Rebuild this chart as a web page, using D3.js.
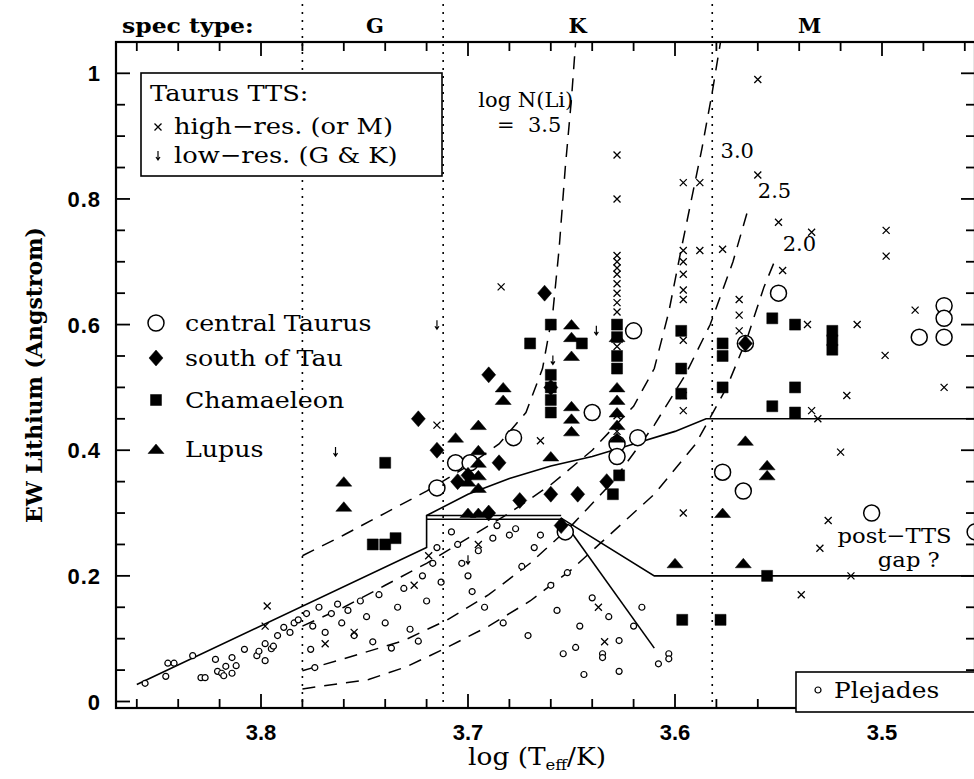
<!DOCTYPE html>
<html>
<head>
<meta charset="utf-8">
<script src="https://cdn.jsdelivr.net/npm/d3@7"></script>
<style>
body { margin: 0; background: #fff; }
text { font-family: "DejaVu Serif", serif; fill: #000; }
</style>
</head>
<body>
<div id="chart"></div>
<script>
// ---- data : [log Teff, EW Li (Angstrom)] ----
var pleiades = [
  [3.856,0.029],[3.846,0.040],[3.845,0.061],[3.842,0.061],[3.833,0.073],[3.822,0.067],[3.829,0.038],[3.827,0.038],
  [3.821,0.048],[3.819,0.045],[3.818,0.041],[3.817,0.056],[3.814,0.070],[3.814,0.045],[3.812,0.057],[3.808,0.083],
  [3.802,0.073],[3.801,0.080],[3.798,0.065],[3.798,0.092],[3.795,0.084],[3.794,0.088],[3.792,0.105],[3.789,0.118],
  [3.786,0.11],[3.784,0.125],[3.782,0.13],
  [3.776,0.083],[3.774,0.054],[3.778,0.14],[3.775,0.12],[3.772,0.15],[3.769,0.11],[3.766,0.14],[3.763,0.155],
  [3.761,0.125],[3.758,0.145],[3.755,0.105],[3.752,0.16],[3.749,0.135],[3.746,0.095],[3.743,0.17],[3.74,0.125],
  [3.737,0.085],[3.734,0.15],[3.731,0.18],[3.728,0.115],[3.724,0.096],[3.722,0.2],[3.72,0.16],[3.717,0.22],
  [3.715,0.245],[3.713,0.19],
  [3.708,0.27],[3.705,0.25],[3.703,0.22],[3.70,0.2],[3.698,0.175],[3.695,0.24],[3.692,0.15],[3.688,0.26],
  [3.686,0.28],[3.683,0.125],[3.68,0.265],[3.677,0.275],[3.674,0.215],[3.671,0.105],[3.668,0.245],[3.665,0.265],
  [3.66,0.185],[3.657,0.145],[3.654,0.076],[3.652,0.205],[3.648,0.086],[3.646,0.12],[3.644,0.043],[3.64,0.165],
  [3.635,0.076],[3.635,0.07],[3.632,0.135],[3.627,0.097],[3.627,0.048],[3.62,0.12],[3.616,0.15],[3.608,0.06],
  [3.603,0.076],[3.603,0.068]
];
var taurusHigh = [
  [3.797,0.152],[3.798,0.12],[3.769,0.092],[3.755,0.11],[3.726,0.185],[3.719,0.232],[3.715,0.44],[3.695,0.25],
  [3.684,0.66],[3.665,0.415],[3.637,0.15],[3.634,0.095],
  [3.628,0.87],[3.628,0.80],[3.628,0.71],[3.628,0.70],[3.628,0.69],[3.628,0.68],[3.628,0.665],[3.628,0.65],
  [3.628,0.635],[3.628,0.62],[3.628,0.565],[3.628,0.53],[3.628,0.455],[3.628,0.43],[3.628,0.41],
  [3.596,0.826],[3.596,0.718],[3.596,0.70],[3.596,0.68],[3.596,0.655],[3.596,0.64],[3.596,0.575],[3.596,0.487],
  [3.596,0.463],[3.596,0.3],[3.588,0.826],[3.588,0.718],[3.577,0.72],[3.56,0.99],[3.56,0.838],[3.569,0.64],
  [3.569,0.615],[3.569,0.59],[3.55,0.763],[3.548,0.686],[3.536,0.6],[3.534,0.747],[3.512,0.6],[3.4985,0.551],
  [3.498,0.75],[3.498,0.709],[3.517,0.487],[3.534,0.463],[3.531,0.45],[3.526,0.288],[3.53,0.244],[3.515,0.2],
  [3.539,0.17],[3.52,0.397],[3.484,0.623],[3.47,0.5]
];
var taurusLow = [
  [3.715,0.599],[3.764,0.397],[3.659,0.543],[3.638,0.59],[3.628,0.39],[3.70,0.225]
];
var centralTau = [
  [3.715,0.34],[3.706,0.38],[3.699,0.38],[3.678,0.42],[3.653,0.27],[3.64,0.46],[3.628,0.41],[3.628,0.39],
  [3.62,0.59],[3.618,0.42],[3.577,0.365],[3.567,0.335],[3.566,0.57],[3.55,0.65],[3.505,0.30],[3.482,0.58],
  [3.47,0.63],[3.47,0.61],[3.47,0.58],[3.455,0.27]
];
var southTau = [
  [3.724,0.45],[3.715,0.40],[3.705,0.35],[3.70,0.36],[3.69,0.52],[3.685,0.38],[3.675,0.32],[3.663,0.65],
  [3.66,0.33],[3.655,0.28],[3.647,0.33],[3.633,0.35],[3.566,0.57],[3.66,0.5],[3.69,0.3]
];
var chamaeleon = [
  [3.746,0.25],[3.74,0.25],[3.735,0.26],[3.74,0.38],[3.67,0.57],[3.66,0.60],[3.66,0.52],[3.66,0.50],[3.66,0.48],
  [3.66,0.46],[3.645,0.57],[3.628,0.60],[3.628,0.58],[3.628,0.55],[3.628,0.53],[3.63,0.33],[3.627,0.36],
  [3.597,0.59],[3.597,0.53],[3.597,0.49],[3.5965,0.13],[3.578,0.13],[3.577,0.57],[3.577,0.55],[3.577,0.50],
  [3.553,0.61],[3.553,0.47],[3.542,0.60],[3.542,0.50],[3.542,0.46],[3.524,0.59],[3.524,0.575],[3.524,0.56],[3.5555,0.2]
];
var lupus = [
  [3.76,0.35],[3.76,0.31],[3.706,0.42],[3.70,0.35],[3.695,0.44],[3.695,0.40],[3.695,0.38],[3.695,0.36],
  [3.695,0.34],[3.683,0.50],[3.683,0.48],[3.65,0.60],[3.65,0.58],[3.65,0.55],[3.65,0.47],[3.65,0.45],[3.65,0.43],
  [3.628,0.58],[3.628,0.50],[3.628,0.48],[3.628,0.46],[3.628,0.44],[3.628,0.42],[3.66,0.39],[3.70,0.30],
  [3.695,0.30],[3.577,0.30],[3.566,0.415],[3.5555,0.376],[3.5555,0.36],[3.60,0.22],[3.567,0.22]
];

// curves of growth, log N(Li) = 3.5, 3.0, 2.5, 2.0
var curve35 = [[3.78,0.232],[3.76,0.265],[3.74,0.3],[3.72,0.335],[3.70,0.375],[3.685,0.41],[3.672,0.46],
  [3.664,0.53],[3.659,0.62],[3.656,0.72],[3.653,0.85],[3.65,0.96],[3.648,1.05]];
var curve30 = [[3.78,0.12],[3.76,0.15],[3.74,0.185],[3.72,0.22],[3.70,0.26],[3.68,0.30],[3.66,0.345],
  [3.64,0.40],[3.62,0.47],[3.61,0.53],[3.603,0.62],[3.597,0.72],[3.592,0.80],[3.587,0.88],[3.582,0.97],[3.578,1.05]];
var curve25 = [[3.78,0.049],[3.76,0.068],[3.745,0.083],[3.731,0.097],[3.71,0.13],[3.69,0.17],[3.67,0.22],
  [3.65,0.28],[3.63,0.35],[3.61,0.44],[3.595,0.52],[3.583,0.6],[3.572,0.7],[3.565,0.78]];
var curve20 = [[3.78,0.02],[3.765,0.027],[3.748,0.035],[3.73,0.055],[3.712,0.083],[3.69,0.12],[3.67,0.16],
  [3.65,0.21],[3.63,0.27],[3.61,0.33],[3.59,0.41],[3.575,0.5],[3.565,0.58],[3.557,0.66],[3.552,0.70]];

// solid boundary lines
var envelope = [[3.86,0.027],[3.72,0.245],[3.72,0.296],[3.70,0.33],[3.68,0.355],[3.66,0.375],[3.64,0.39],
  [3.62,0.41],[3.60,0.43],[3.585,0.45],[3.40,0.45]];
var ledgeTop = [[3.72,0.296],[3.655,0.296]];
var ledgeLow = [[3.72,0.29],[3.655,0.29]];
var gapLine = [[3.655,0.292],[3.61,0.2],[3.40,0.2]];
var dropLine = [[3.655,0.292],[3.61,0.085]];

var specBounds = [3.78, 3.712, 3.582];
var specLabels = [["G", 3.745], ["K", 3.647], ["M", 3.535]];
var curveLabels = [["3.0", 3.578, 0.877], ["2.5", 3.560, 0.813], ["2.0", 3.548, 0.729]];
var yTicks = [0, 0.2, 0.4, 0.6, 0.8, 1];
var xTicks = [3.8, 3.7, 3.6, 3.5];

// ---- layout ----
var svgWidth = 974, svgHeight = 779;
var frame = { left: 116, right: 975, top: 42, bottom: 708 };

var svg = d3.select("#chart").append("svg")
  .attr("width", svgWidth).attr("height", svgHeight);

var x = d3.scaleLinear().domain([3.8, 3.7]).range([261, 468]);
var y = d3.scaleLinear().domain([0, 1]).range([701.5, 73.3]);

svg.append("clipPath").attr("id", "plotclip")
  .append("rect").attr("x", frame.left).attr("y", frame.top)
  .attr("width", frame.right - frame.left).attr("height", frame.bottom - frame.top);

var plot = svg.append("g").attr("clip-path", "url(#plotclip)");

// wide serif text, like the original plotting font
function wideText(parent, px, py, str, size, sx, weight) {
  return parent.append("text")
    .attr("transform", "translate(" + px + "," + py + ") scale(" + sx + ",1)")
    .style("font-size", size + "px").style("font-weight", weight || "normal")
    .text(str);
}

// spectral type separators (reach above the frame)
specBounds.forEach(function (b) {
  svg.append("line")
    .attr("x1", x(b)).attr("x2", x(b)).attr("y1", 4).attr("y2", frame.bottom)
    .attr("stroke", "#000").attr("stroke-width", 1.6).attr("stroke-dasharray", "2,6");
});

var line = d3.line().x(d => x(d[0])).y(d => y(d[1]));

[curve35, curve30, curve25, curve20].forEach(function (c) {
  plot.append("path").attr("d", line(c)).attr("fill", "none")
    .attr("stroke", "#000").attr("stroke-width", 1.5).attr("stroke-dasharray", "13,9");
});
[envelope, ledgeTop, ledgeLow, gapLine, dropLine].forEach(function (c) {
  plot.append("path").attr("d", line(c)).attr("fill", "none")
    .attr("stroke", "#000").attr("stroke-width", 1.6);
});

// symbol paths
function circlePath(r) { return "M" + r + ",0A" + r + "," + r + " 0 1,1 " + (-r) + ",0A" + r + "," + r + " 0 1,1 " + r + ",0Z"; }
var sym = {
  big: circlePath(8),
  small: circlePath(3),
  diamond: "M0,-8L7,0L0,8L-7,0Z",
  square: "M-5.5,-5.5H5.5V5.5H-5.5Z",
  triangle: "M-8,4.5L0,-5L8,4.5Z",
  cross: "M-3.5,-3.5L3.5,3.5M-3.5,3.5L3.5,-3.5",
  arrow: "M0,-5V4M-2,1L0,4L2,1"
};

function drawSet(data, path, filled, sw) {
  plot.selectAll(null).data(data).enter().append("path")
    .attr("transform", d => "translate(" + x(d[0]) + "," + y(d[1]) + ")")
    .attr("d", path)
    .attr("fill", filled ? "#000" : "#fff")
    .attr("stroke", "#000")
    .attr("stroke-width", sw);
}
drawSet(pleiades, sym.small, false, 1.2);
drawSet(taurusHigh, sym.cross, false, 1.3);
taurusLow.forEach(function (d) {
  plot.append("path").attr("transform", "translate(" + x(d[0]) + "," + y(d[1]) + ")")
    .attr("d", sym.arrow).attr("fill", "none").attr("stroke", "#000").attr("stroke-width", 1.2);
});
drawSet(centralTau, sym.big, false, 1.5);
drawSet(southTau, sym.diamond, true, 0.5);
drawSet(chamaeleon, sym.square, true, 0.5);
drawSet(lupus, sym.triangle, true, 0.5);

// ---- frame and ticks ----
svg.append("rect").attr("x", frame.left).attr("y", frame.top)
  .attr("width", frame.right - frame.left).attr("height", frame.bottom - frame.top)
  .attr("fill", "none").attr("stroke", "#000").attr("stroke-width", 2.2);

var yMinor = d3.range(0, 1.051, 0.05);
yMinor.forEach(function (v) {
  var major = Math.abs(v * 5 - Math.round(v * 5)) < 1e-6;
  var len = major ? 14 : 9;
  svg.append("line").attr("x1", frame.left).attr("x2", frame.left + len).attr("y1", y(v)).attr("y2", y(v))
    .attr("stroke", "#000").attr("stroke-width", 1.8);
  svg.append("line").attr("x1", frame.right).attr("x2", frame.right - len).attr("y1", y(v)).attr("y2", y(v))
    .attr("stroke", "#000").attr("stroke-width", 1.8);
});
var xMinor = d3.range(3.46, 3.871, 0.02);
xMinor.forEach(function (v) {
  var major = Math.abs(v * 10 - Math.round(v * 10)) < 1e-6;
  var len = major ? 14 : 9;
  svg.append("line").attr("x1", x(v)).attr("x2", x(v)).attr("y1", frame.bottom).attr("y2", frame.bottom - len)
    .attr("stroke", "#000").attr("stroke-width", 1.8);
  svg.append("line").attr("x1", x(v)).attr("x2", x(v)).attr("y1", frame.top).attr("y2", frame.top + len)
    .attr("stroke", "#000").attr("stroke-width", 1.8);
});

svg.selectAll(null).data(yTicks).enter().append("text")
  .attr("x", 101).attr("y", d => y(d) + 8)
  .attr("text-anchor", "end")
  .style("font-family", "Liberation Sans, Arial, sans-serif").style("font-weight", "bold")
  .style("font-size", "22px").style("letter-spacing", "1px")
  .text(d => d === 0 ? "0" : d === 1 ? "1" : d.toFixed(1));

svg.selectAll(null).data(xTicks).enter().append("text")
  .attr("x", d => x(d)).attr("y", 740)
  .attr("text-anchor", "middle")
  .style("font-family", "Liberation Sans, Arial, sans-serif").style("font-weight", "bold").style("font-size", "22px")
  .text(d => d.toFixed(1));

// axis titles
var xt = svg.append("text").attr("transform", "translate(537,765) scale(1.1,1)").attr("text-anchor", "middle")
  .style("font-size", "24px");
xt.append("tspan").text("log (T");
xt.append("tspan").attr("dy", 5).style("font-size", "15px").text("eff");
xt.append("tspan").attr("dy", -5).text("/K)");

svg.append("text")
  .attr("transform", "translate(42," + ((frame.top + frame.bottom) / 2) + ") rotate(-90)")
  .attr("text-anchor", "middle").style("font-size", "22px").style("font-weight", "bold")
  .text("EW Lithium (Angstrom)");

// spectral type header
wideText(svg, 122, 33, "spec type:", 21, 1.12, "bold");
specLabels.forEach(function (s) {
  svg.append("text").attr("x", x(s[1])).attr("y", 33).attr("text-anchor", "middle")
    .style("font-size", "21px").style("font-weight", "bold").text(s[0]);
});

// curve labels
svg.append("text").attr("x", x(3.695)).attr("y", y(0.957) + 7).style("font-size", "21px").text("log N(Li)");
svg.append("text").attr("x", x(3.686)).attr("y", y(0.917) + 7).style("font-size", "21px").attr("xml:space", "preserve").text("=  3.5");
curveLabels.forEach(function (c) {
  svg.append("text").attr("x", x(c[1])).attr("y", y(c[2]) + 7).style("font-size", "21px").text(c[0]);
});
wideText(svg, x(3.5215), y(0.264) + 7, "post\u2212TTS", 21, 1.08);
wideText(svg, x(3.502), y(0.225) + 7, "gap ?", 21, 1.08);

// Taurus TTS legend box
var lg = svg.append("g");
lg.append("rect").attr("x", 141).attr("y", 73).attr("width", 301).attr("height", 103)
  .attr("fill", "#fff").attr("stroke", "#000").attr("stroke-width", 1.6);
wideText(lg, 150, 101, "Taurus TTS:", 23, 1.12);
lg.append("path").attr("transform", "translate(158,127)").attr("d", sym.cross).attr("stroke", "#000").attr("stroke-width", 1.3);
wideText(lg, 174, 134, "high\u2212res. (or M)", 23, 1.12);
lg.append("path").attr("transform", "translate(158,156)").attr("d", sym.arrow).attr("fill", "none").attr("stroke", "#000").attr("stroke-width", 1.2);
wideText(lg, 174, 163, "low\u2212res. (G & K)", 23, 1.12);

// group legend
var groups = [["central Taurus", sym.big, false, 1.5], ["south of Tau", sym.diamond, true, 0.5],
  ["Chamaeleon", sym.square, true, 0.5], ["Lupus", sym.triangle, true, 0.5]];
var groupY = [323, 358, 400, 449];
groups.forEach(function (g, i) {
  svg.append("path").attr("transform", "translate(156," + groupY[i] + ")").attr("d", g[1])
    .attr("fill", g[2] ? "#000" : "#fff").attr("stroke", "#000").attr("stroke-width", g[3]);
  wideText(svg, 185, groupY[i] + 8, g[0], 23, 1.1);
});

// Pleiades legend box
svg.append("rect").attr("x", 796).attr("y", 672).attr("width", 190).attr("height", 40)
  .attr("fill", "#fff").attr("stroke", "#000").attr("stroke-width", 1.6);
svg.append("path").attr("transform", "translate(818,690)").attr("d", sym.small).attr("fill", "#fff").attr("stroke", "#000").attr("stroke-width", 1.2);
wideText(svg, 834, 698, "Plejades", 23, 1.08);
</script>
</body>
</html>
